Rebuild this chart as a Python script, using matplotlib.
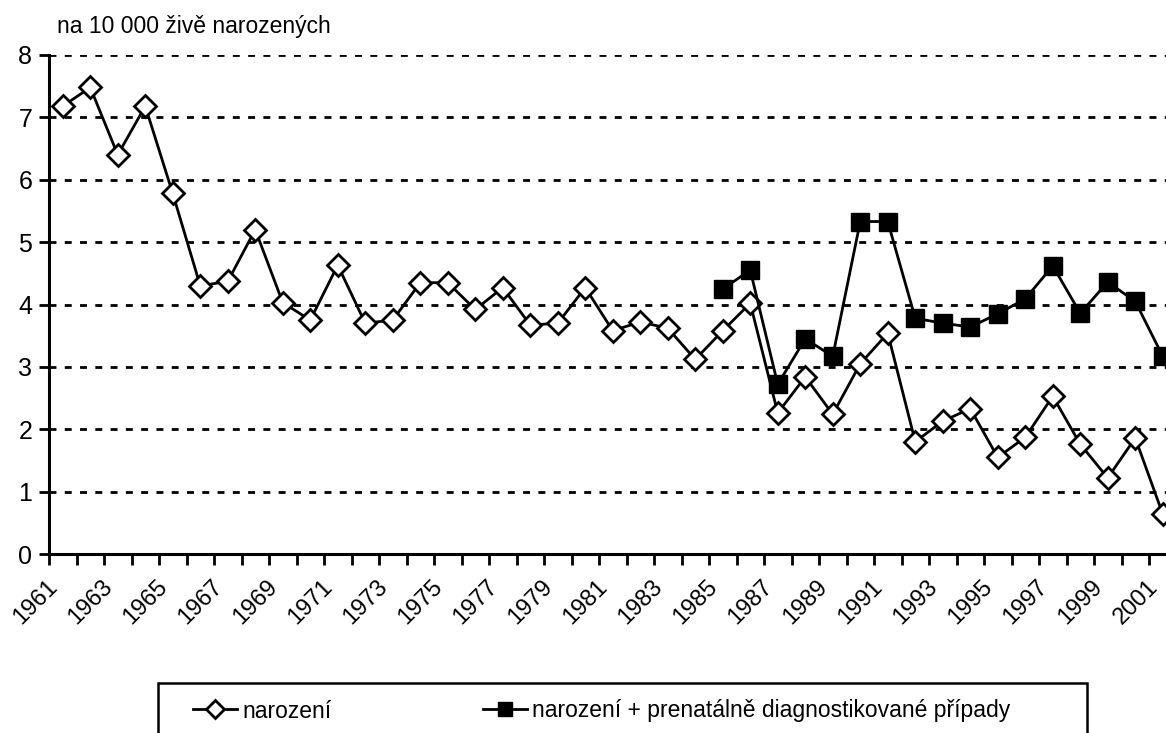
import numpy as np
import matplotlib
matplotlib.use("Agg")
import matplotlib.pyplot as plt
from matplotlib.patches import Rectangle
from matplotlib.transforms import ScaledTranslation

plt.rcParams["font.family"] = ["Liberation Sans", "DejaVu Sans"]

# ==========================
# Data
# ==========================

years = list(range(1961, 2002))

narozeni = [
    7.18, 7.48, 6.40, 7.18, 5.78, 4.30, 4.37, 5.20, 4.03, 3.75,
    4.63, 3.70, 3.75, 4.35, 4.35, 3.92, 4.27, 3.67, 3.70, 4.27,
    3.58, 3.72, 3.62, 3.12, 3.58, 4.02, 2.26, 2.84, 2.24, 3.05,
    3.54, 1.80, 2.13, 2.33, 1.55, 1.87, 2.53, 1.76, 1.22, 1.86,
    0.64,
]

prenatal_years = list(range(1985, 2002))
prenatal = [
    4.25, 4.55, 2.72, 3.45, 3.17, 5.33, 5.33, 3.78, 3.70, 3.64,
    3.85, 4.09, 4.62, 3.86, 4.36, 4.05, 3.17,
]

label_narozeni = "narození"
label_prenatal = "narození + prenatálně diagnostikované případy"
y_title = "na 10 000 živě narozených"

# ==========================
# Figure
# ==========================

W, H = 1166, 733
fig = plt.figure(figsize=(W / 100, H / 100), dpi=100)

left, right, bottom, top = 49, 1176.5, 554, 55
ax = fig.add_axes([left / W, 1 - bottom / H, (right - left) / W, (bottom - top) / H])

x = np.arange(len(years))
xp = np.array([years.index(y) for y in prenatal_years])

for v in range(1, 9):
    ax.axhline(v, color="black", lw=2, linestyle=(0, (2.5, 3)), zorder=1)

ax.plot(x, narozeni, color="black", lw=2, marker="D", ms=11,
        markerfacecolor="white", markeredgecolor="black", markeredgewidth=2,
        label=label_narozeni, zorder=3, clip_on=False)
ax.plot(xp, prenatal, color="black", lw=2, marker="s", ms=13,
        markerfacecolor="black", markeredgecolor="black",
        label=label_prenatal, zorder=4, clip_on=False)

ax.set_xlim(-0.5, len(years) - 0.5)
ax.set_ylim(0, 8)

for s in ["top", "right"]:
    ax.spines[s].set_visible(False)
ax.spines["left"].set_linewidth(2.2)
ax.spines["bottom"].set_linewidth(2.2)

ax.set_yticks(range(0, 9))
ax.tick_params(axis="y", direction="out", length=7, width=2, labelsize=18, pad=5)

# tick marks between categories, labels every 2nd year
ax.set_xticks(np.arange(-0.5, len(years), 1), minor=True)
ax.set_xticks(x[::2])
ax.set_xticklabels([str(y) for y in years[::2]], rotation=45,
                   ha="right", va="center", rotation_mode="anchor")
ax.tick_params(axis="x", which="major", length=0, labelsize=17, pad=21)
ax.tick_params(axis="x", which="minor", direction="out", length=8, width=2)

shift = ScaledTranslation(-6 / 72, 0, fig.dpi_scale_trans)
for lab in ax.get_xticklabels():
    lab.set_transform(lab.get_transform() + shift)

fig.text(57 / W, 1 - 27 / H, y_title, fontsize=16.5, va="center", ha="left")

# ==========================
# Legend
# ==========================

fig.patches.append(Rectangle((158 / W, -0.05), (1087 - 158) / W, 0.05 + 1 - 683 / H,
                             transform=fig.transFigure, fill=False,
                             edgecolor="black", lw=1.8))

leg = fig.legend(loc="center left", bbox_to_anchor=(182 / W, 1 - 711 / H),
                 ncol=2, frameon=False, fontsize=16.5, handlelength=1.9,
                 handletextpad=0.25, columnspacing=6.6, borderpad=0,
                 markerscale=0.8)

plt.savefig("out.png", dpi=100)
plt.close()
